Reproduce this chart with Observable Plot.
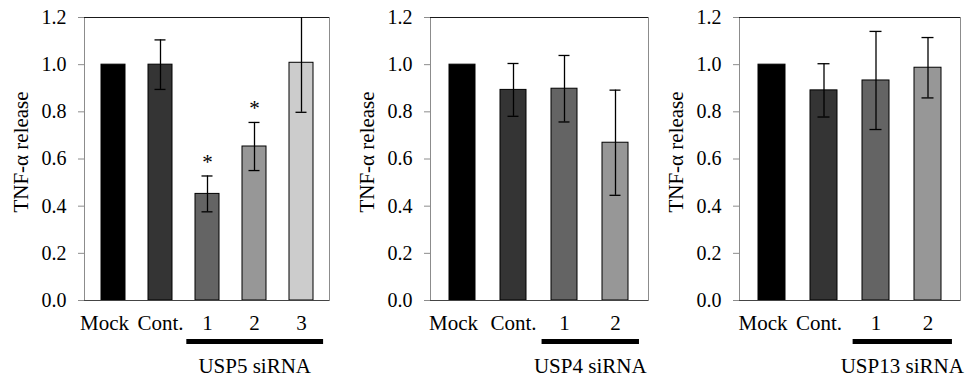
<!DOCTYPE html>
<html><head><meta charset="utf-8">
<script src="https://cdn.jsdelivr.net/npm/d3@7"></script>
<script src="https://cdn.jsdelivr.net/npm/@observablehq/plot@0.6"></script>
<style>
html,body{margin:0;padding:0;background:#fff;}
#chart{position:relative;width:967px;height:379px;overflow:hidden;background:#fff;}
#chart svg{position:absolute;top:0;overflow:visible;}
#chart svg, #chart svg text, #chart svg g { font-family: "Liberation Serif", "Times New Roman", serif !important; }
</style></head><body><div id="chart"></div>
<script>
// ---- data ----
const yTitle = "TNF-α release";
const yTicks = [0, 0.2, 0.4, 0.6, 0.8, 1.0, 1.2];

const categoriesUSP5 = ["Mock", "Cont.", "1", "2", "3"];
const valuesUSP5 = [1.0, 1.0, 0.452, 0.653, 1.008];
const errorsUSP5 = [0, 0.105, 0.076, 0.102, 0.21];
const signifUSP5 = ["", "", "*", "*", ""];

const categoriesUSP4 = ["Mock", "Cont.", "1", "2"];
const valuesUSP4 = [1.0, 0.893, 0.898, 0.669];
const errorsUSP4 = [0, 0.112, 0.141, 0.223];
const signifUSP4 = ["", "", "", ""];

const categoriesUSP13 = ["Mock", "Cont.", "1", "2"];
const valuesUSP13 = [1.0, 0.891, 0.933, 0.987];
const errorsUSP13 = [0, 0.113, 0.208, 0.128];
const signifUSP13 = ["", "", "", ""];

const groupLabels = ["USP5 siRNA", "USP4 siRNA", "USP13 siRNA"];

// ---- styles / layout ----
const barFills = ["#000000", "#343434", "#646464", "#979797", "#cccccc"];
const fontFamily = "Liberation Serif, Times New Roman, serif";
const panels = [
  {cats: categoriesUSP5, vals: valuesUSP5, errs: errorsUSP5, sig: signifUSP5, label: groupLabels[0], left: 0, width: 330, ml: 84, mr: 1, contShift: 0},
  {cats: categoriesUSP4, vals: valuesUSP4, errs: errorsUSP4, sig: signifUSP4, label: groupLabels[1], left: 330, width: 320, ml: 100, mr: 2, contShift: 0},
  {cats: categoriesUSP13, vals: valuesUSP13, errs: errorsUSP13, sig: signifUSP13, label: groupLabels[2], left: 650, width: 317, ml: 89, mr: 7, contShift: -5}
];

function groupMark(members, label) {
  return (index, scales, values, dims) => {
    const x = scales.x;
    const bw = x.bandwidth ? x.bandwidth() : 0;
    const step = x.step ? x.step() : bw * 2;
    const x1 = x(members[0]) + bw / 2 - 0.44 * step;
    const x2 = x(members[members.length - 1]) + bw / 2 + 0.47 * step;
    const yb = dims.height - dims.marginBottom;
    const g = d3.create("svg:g");
    g.append("line")
      .attr("x1", x1).attr("x2", x2)
      .attr("y1", yb + 41.5).attr("y2", yb + 41.5)
      .attr("stroke", "#000").attr("stroke-width", 5);
    g.append("text")
      .attr("x", (x1 + x2) / 2).attr("y", yb + 73)
      .attr("text-anchor", "middle")
      .attr("fill", "#000")
      .attr("font-size", 21)
      .text(label);
    return g.node();
  };
}

const chart = document.getElementById("chart");
for (const p of panels) {
  const data = p.cats.map((c, i) => ({cat: c, value: p.vals[i], err: p.errs[i], sig: p.sig[i], fill: barFills[i]}));
  const errData = data.filter(d => d.err > 0);
  const sigData = data.filter(d => d.sig);
  const members = p.cats.slice(2);
  const capInset = p.cats.length === 5 ? 6.5 : 7.5;
  const xAxisStyle = {tickSize: 0, tickPadding: 15, fontSize: 21, fill: "#000", label: null};
  const svg = Plot.plot({
    width: p.width,
    height: 379,
    marginLeft: p.ml,
    marginRight: p.mr,
    marginTop: 17,
    marginBottom: 79,
    style: {fontFamily, fontSize: "21px", color: "#000", background: "transparent"},
    x: {domain: p.cats, paddingInner: 0.49, paddingOuter: 0.35, label: null},
    y: {domain: [0, 1.2], label: null},
    color: {type: "identity"},
    marks: [
      Plot.frame({stroke: "#8c8c8c"}),
      Plot.ruleY([1.2], {stroke: "#1a1a1a"}),
      Plot.barY(data, {x: "cat", y: "value", fill: "fill", stroke: "#000", strokeWidth: 1}),
      Plot.ruleY([0], {stroke: "#444"}),
      Plot.ruleX(errData, {x: "cat", y1: d => d.value - d.err, y2: d => d.value + d.err, stroke: "#000", strokeWidth: 1.3, clip: true}),
      Plot.tickY(errData, {x: "cat", y: d => d.value + d.err, insetLeft: capInset, insetRight: capInset, stroke: "#000", strokeWidth: 1.3, clip: true}),
      Plot.tickY(errData, {x: "cat", y: d => d.value - d.err, insetLeft: capInset, insetRight: capInset, stroke: "#000", strokeWidth: 1.3}),
      Plot.text(sigData, {x: "cat", y: d => d.value + d.err, text: "sig", dy: -14, fontSize: 21, fill: "#000"}),
      Plot.axisY(yTicks, {tickSize: 6, tickPadding: 12, tickFormat: d3.format(".1f"), stroke: "#8c8c8c", fill: "#000", fontSize: 20, label: null}),
      Plot.axisX([p.cats[0]], {...xAxisStyle, dx: -9}),
      Plot.axisX([p.cats[1]], {...xAxisStyle, dx: p.contShift}),
      Plot.axisX(p.cats.slice(2), xAxisStyle),
      Plot.text([yTitle], {frameAnchor: "left", textAnchor: "middle", rotate: -90, dx: -63, dy: -7, fontSize: 21, fill: "#000"}),
      groupMark(members, p.label)
    ]
  });
  svg.style.left = p.left + "px";
  chart.appendChild(svg);
}
</script>
</body></html>
